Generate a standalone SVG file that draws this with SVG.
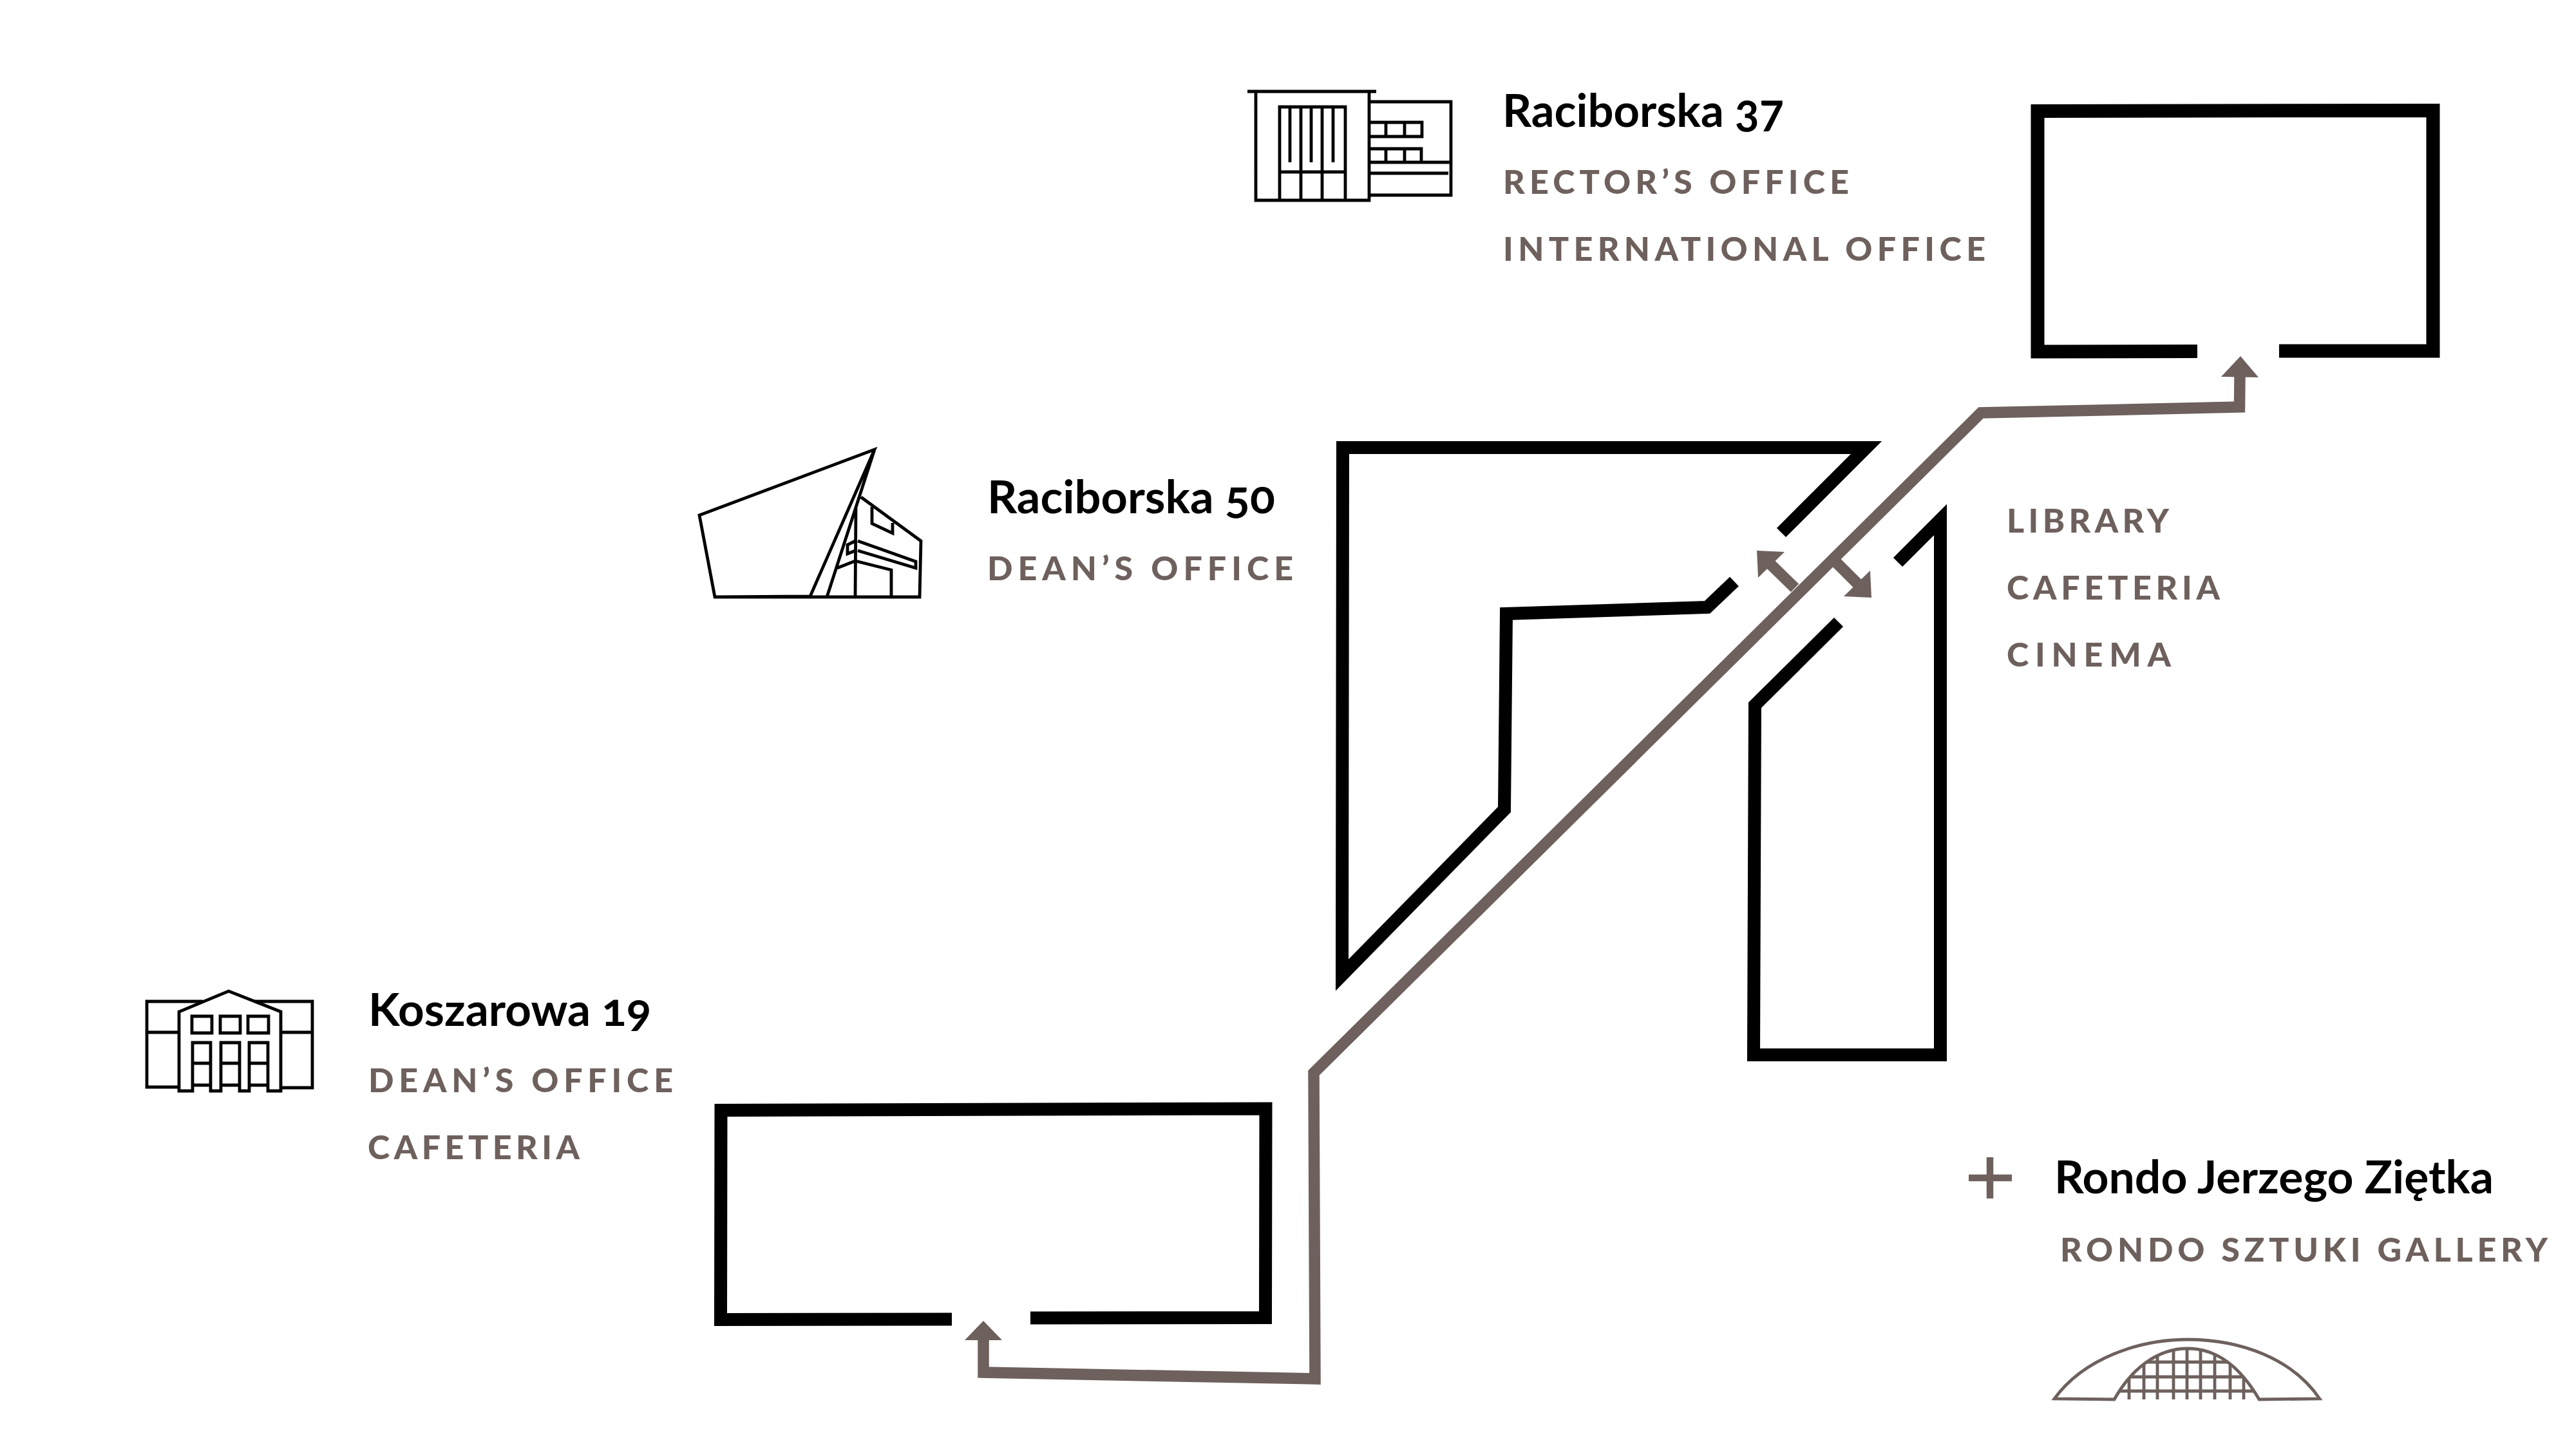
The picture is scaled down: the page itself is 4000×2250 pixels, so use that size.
<svg xmlns="http://www.w3.org/2000/svg" width="4000" height="2250" viewBox="0 0 4000 2250">
<style>
.wall{fill:none;stroke:#000;stroke-width:20;stroke-miterlimit:10;stroke-linejoin:miter}
.ic{fill:none;stroke:#000;stroke-width:4.8;stroke-miterlimit:10}
.ig{fill:none;stroke:#6e615d;stroke-width:4.8;stroke-miterlimit:10}
.route{fill:none;stroke:#6e615d;stroke-width:17.5;stroke-miterlimit:10}
.head{fill:#6e615d}
.t{font-family:"Lato","Liberation Sans",sans-serif;font-weight:700;font-size:71px;fill:#000;font-feature-settings:"onum","lnum" 0}
.s{font-family:"Lato","Liberation Sans",sans-serif;font-weight:900;font-size:52px;fill:#6e615d}
</style>
<defs>
<clipPath id="dome"><path d="M3283 2173C3310 2125 3350 2094 3397 2094C3445 2094 3480 2125 3508 2173Z"/></clipPath>
</defs>
<rect width="4000" height="2250" fill="#fff"/>

<g id="connectors">
<path class="route" d="M3478 585L3477.5 632L3076 641L2040 1666L2042 2141L1527 2131L1527 2081"/>
<polygon class="head" points="3479,553 3449,585 3507,586"/>
<polygon class="head" points="1527,2051 1498,2081 1556,2081"/>
<path class="route" d="M2787 913L2745 872"/>
<polygon class="head" points="2728,855 2771,857 2730,897"/>
<path class="route" d="M2851 873L2889 911"/>
<polygon class="head" points="2906,928 2863,926 2904,886"/>
</g>

<g id="room-raciborska-37">
<path class="wall" style="stroke-width:21" d="M3412 545.5L3164 546L3164 172.5L3778 171.5L3778 545L3539 545"/>
</g>
<g id="room-raciborska-50">
<path class="wall" d="M2766 827L2898 695L2085 695L2084 1514L2336 1257L2339 953L2651 943L2693 903"/>
</g>
<g id="room-library">
<path class="wall" d="M2855 966L2725 1095L2723 1638L3013 1638L3013 807L2947 873"/>
</g>
<g id="room-koszarowa-19">
<path class="wall" d="M1478 2048.5L1119 2049L1119.5 1724L1965.5 1721.5L1965 2046L1600 2046.5"/>
</g>

<g id="icon-raciborska-37">
<path class="ic" d="M1937 142H2137M1950 142V311H2126V142M1987 311V166H2089V311M2020 166V311M2053 166V311M1987 267H2089M2003 166V252M2036 166V252M2070 166V252"/>
<path class="ic" d="M2126 158H2253V303H2126M2126 190H2208V212H2126M2152 190V212M2181 190V212M2126 231H2207V252M2126 252H2253M2152 231V252M2181 231V252M2126 269H2249"/>
</g>
<g id="icon-raciborska-50">
<path class="ic" d="M1086 800L1358 698L1258 926L1110 927ZM1358 698L1284 927M1110 927H1428L1430 840L1337 772M1329 787L1328 927M1354 787V813L1386 828V812M1332 840L1422 872V882L1332 855M1328 840L1316 846V860L1328 855M1300 882L1328 871L1384 885V927"/>
</g>
<g id="icon-koszarowa-19">
<path class="ic" d="M315 1555H228V1688H278M395 1555H485V1689H436M228 1603H278M436 1603H485"/>
<path class="ic" d="M278 1694V1571L355 1539L436 1571V1694H416V1619H387V1694H372V1619H343V1694H327V1619H299V1694Z"/>
<path class="ic" d="M298 1578H329V1604H298ZM342 1578H373V1604H342ZM385 1578H417V1604H385ZM299 1651H327M343 1651H372M387 1651H416M299 1685H327M343 1685H372M387 1685H416"/>
</g>
<g id="icon-rondo">
<path class="ig" d="M3190 2172C3235 2110 3320 2080 3397 2080C3480 2080 3560 2110 3602 2172L3508 2173C3480 2125 3445 2094 3397 2094C3350 2094 3310 2125 3283 2173Z"/>
<path class="ig" clip-path="url(#dome)" d="M3306 2090V2174M3329 2090V2174M3350 2090V2174M3375 2090V2174M3396 2090V2174M3417 2090V2174M3439 2090V2174M3463 2090V2174M3484 2090V2174M3270 2115H3520M3270 2138H3520M3270 2160H3520"/>
</g>
<g id="plus-rondo">
<path d="M3057 1829H3124M3090 1797V1861" fill="none" stroke="#6e615d" stroke-width="10.5"/>
</g>

<g id="label-raciborska-37">
<text class="t" x="2333" y="197" textLength="437" lengthAdjust="spacingAndGlyphs">Raciborska 37</text>
<text class="s" x="2334" y="301" textLength="537" lengthAdjust="spacing">RECTOR’S OFFICE</text>
<text class="s" x="2334" y="405" textLength="749" lengthAdjust="spacing">INTERNATIONAL OFFICE</text>
</g>
<g id="label-raciborska-50">
<text class="t" x="1533" y="797" textLength="447" lengthAdjust="spacingAndGlyphs">Raciborska 50</text>
<text class="s" x="1533" y="901" textLength="475" lengthAdjust="spacing">DEAN’S OFFICE</text>
</g>
<g id="label-library">
<text class="s" x="3116" y="827" textLength="252" lengthAdjust="spacing">LIBRARY</text>
<text class="s" x="3116" y="931" textLength="331" lengthAdjust="spacing">CAFETERIA</text>
<text class="s" x="3116" y="1035" textLength="255" lengthAdjust="spacing">CINEMA</text>
</g>
<g id="label-koszarowa-19">
<text class="t" x="572" y="1593" textLength="439" lengthAdjust="spacingAndGlyphs">Koszarowa 19</text>
<text class="s" x="572" y="1696" textLength="473" lengthAdjust="spacing">DEAN’S OFFICE</text>
<text class="s" x="571" y="1800" textLength="329" lengthAdjust="spacing">CAFETERIA</text>
</g>
<g id="label-rondo">
<text class="t" x="3190" y="1853" textLength="682" lengthAdjust="spacingAndGlyphs">Rondo Jerzego Ziętka</text>
<text class="s" x="3199" y="1959" textLength="757" lengthAdjust="spacing">RONDO SZTUKI GALLERY</text>
</g>
</svg>
